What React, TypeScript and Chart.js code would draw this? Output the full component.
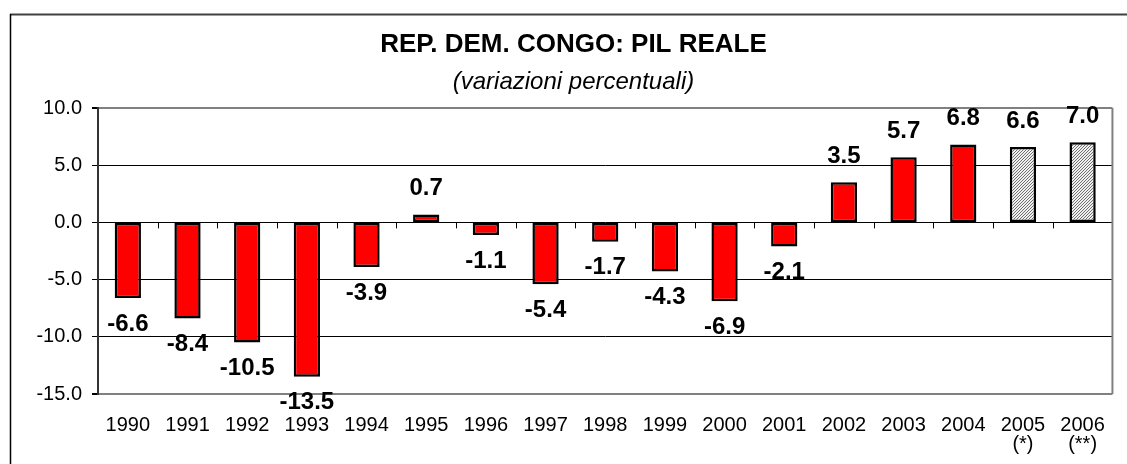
import React, { useEffect, useRef } from "react";
import { Chart, registerables } from "chart.js";

Chart.register(...registerables);

const years = ["1990", "1991", "1992", "1993", "1994", "1995", "1996", "1997", "1998", "1999", "2000", "2001", "2002", "2003", "2004", "2005", "2006"];
const yearNotes = ["", "", "", "", "", "", "", "", "", "", "", "", "", "", "", "(*)", "(**)"];
const gdpGrowth = [-6.6, -8.4, -10.5, -13.5, -3.9, 0.7, -1.1, -5.4, -1.7, -4.3, -6.9, -2.1, 3.5, 5.7, 6.8, 6.6, 7.0];
const isEstimate = [false, false, false, false, false, false, false, false, false, false, false, false, false, false, false, true, true];
const titleText = "REP. DEM. CONGO: PIL REALE";
const subtitleText = "(variazioni percentuali)";

const FONT = "Arial, 'Liberation Sans', sans-serif";

function makeHatch(): CanvasPattern | string {
  const c = document.createElement("canvas");
  c.width = 3;
  c.height = 3;
  const g = c.getContext("2d");
  if (!g) return "#c0c0c0";
  g.fillStyle = "#f0f0f0";
  g.fillRect(0, 0, 3, 3);
  g.fillStyle = "#707070";
  g.fillRect(2, 0, 1, 1);
  g.fillRect(1, 1, 1, 1);
  g.fillRect(0, 2, 1, 1);
  const p = g.createPattern(c, "repeat");
  return p || "#c0c0c0";
}

const framePlugin = {
  id: "frame",
  beforeDraw(chart: any) {
    const ctx = chart.ctx;
    ctx.save();
    ctx.strokeStyle = "#404040";
    ctx.lineWidth = 2;
    ctx.beginPath();
    ctx.moveTo(10, 14.5);
    ctx.lineTo(chart.width, 14.5);
    ctx.stroke();
    ctx.strokeStyle = "#000000";
    ctx.lineWidth = 1.5;
    ctx.beginPath();
    ctx.moveTo(10.5, 14);
    ctx.lineTo(10.5, chart.height);
    ctx.stroke();
    ctx.restore();
  },
  afterDatasetsDraw(chart: any) {
    const ctx = chart.ctx;
    const area = chart.chartArea;
    const xs = chart.scales.x;
    const ys = chart.scales.y;
    const y0 = ys.getPixelForValue(0);
    ctx.save();
    ctx.strokeStyle = "#808080";
    ctx.lineWidth = 2;
    ctx.beginPath();
    ctx.moveTo(area.right, area.top);
    ctx.lineTo(area.right, area.bottom);
    ctx.stroke();
    ctx.strokeStyle = "#000000";
    ctx.lineWidth = 1;
    ctx.beginPath();
    for (let i = 0; i < years.length - 1; i++) {
      const xb = Math.round((xs.getPixelForValue(i) + xs.getPixelForValue(i + 1)) / 2) + 0.5;
      ctx.moveTo(xb, y0);
      ctx.lineTo(xb, y0 + 6);
    }
    ctx.stroke();
    const meta = chart.getDatasetMeta(0);
    ctx.fillStyle = "#000000";
    ctx.font = `bold 24px ${FONT}`;
    ctx.textAlign = "center";
    ctx.textBaseline = "middle";
    meta.data.forEach((el: any, i: number) => {
      const v = gdpGrowth[i];
      const y = v >= 0 ? el.y - 26 : el.y + 26;
      ctx.fillText(v.toFixed(1), el.x, y);
    });
    ctx.restore();
  },
};

export default function App() {
  const ref = useRef<HTMLCanvasElement | null>(null);
  useEffect(() => {
    if (!ref.current) return;
    const hatch = makeHatch();
    const labels = years.map((y, i) => (yearNotes[i] ? [y, yearNotes[i]] : y));
    const chart = new Chart(ref.current, {
      type: "bar",
      data: {
        labels,
        datasets: [
          {
            data: gdpGrowth,
            backgroundColor: gdpGrowth.map((_, i) => (isEstimate[i] ? hatch : "#ff0000")),
            borderColor: "#000000",
            borderWidth: 2.5,
            borderSkipped: false,
            barPercentage: 0.44,
            categoryPercentage: 1,
          },
        ],
      },
      options: {
        responsive: false,
        animation: false,
        layout: { padding: { left: 25, right: 5, top: 0, bottom: 0 } },
        plugins: {
          legend: { display: false },
          tooltip: { enabled: false },
          title: {
            display: true,
            text: titleText,
            color: "#000",
            font: { family: FONT, size: 26, weight: "bold", lineHeight: 1.2 },
            padding: { top: 29.4, bottom: 0 },
          },
          subtitle: {
            display: true,
            text: subtitleText,
            color: "#000",
            font: { family: FONT, size: 24, style: "italic", lineHeight: 1.2 },
            padding: { top: 7, bottom: 11.6 },
          },
        },
        scales: {
          x: {
            grid: { display: false, drawTicks: false },
            border: { display: false },
            ticks: {
              color: "#000",
              font: { family: FONT, size: 20, lineHeight: 0.95 },
              padding: 22,
              maxRotation: 0,
              autoSkip: false,
            },
            afterFit(scale: any) {
              scale.height = 70;
            },
          },
          y: {
            min: -15,
            max: 10,
            ticks: {
              stepSize: 5,
              color: "#000",
              font: { family: FONT, size: 20 },
              padding: 10,
              callback: (v: any) => Number(v).toFixed(1),
            },
            grid: {
              color: (c: any) => (c.tick && (c.tick.value === 10 || c.tick.value === -15) ? "#808080" : "#000000"),
              lineWidth: (c: any) => (c.tick && (c.tick.value === 10 || c.tick.value === -15) ? 2 : 1),
              tickColor: "#000000",
              tickLength: 6,
              drawTicks: true,
            },
            border: { display: true, color: "#333333", width: 2 },
            afterFit(scale: any) {
              scale.width = 73;
            },
          },
        },
      },
      plugins: [framePlugin],
    });
    return () => chart.destroy();
  }, []);
  return (
    <div style={{ position: "absolute", left: 0, top: 0, width: 1127, height: 464, background: "#fff" }}>
      <canvas ref={ref} width={1127} height={464} style={{ width: 1127, height: 464, display: "block" }} />
    </div>
  );
}
